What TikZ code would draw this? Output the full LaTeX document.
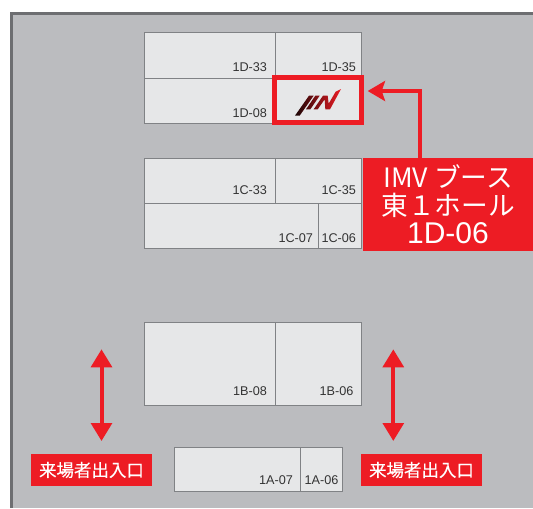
\documentclass[tikz,border=0pt]{standalone}
\usepackage{fontspec}
\setmainfont{Liberation Sans}
\newfontfamily\jpfont{Noto Sans CJK JP}
\newfontfamily\jpboldfont[FakeBold=0.15]{Noto Sans CJK JP}
\usetikzlibrary{arrows.meta}
\definecolor{hallgrey}{HTML}{BBBCBF}
\definecolor{boothgrey}{HTML}{E6E7E8}
\definecolor{edgegrey}{HTML}{808285}
\definecolor{walldark}{HTML}{6D6E71}
\definecolor{imvred}{HTML}{ED1C24}
\definecolor{logodark}{HTML}{1A0505}
\definecolor{logomid}{HTML}{9E1016}
\tikzset{
  boothrect/.style={fill=boothgrey,draw=edgegrey,line width=0.75pt},
  boothtext/.style={anchor=base east,inner sep=0pt,outer sep=0pt,text=black!80,font=\fontsize{9.5pt}{11pt}\selectfont},
  entrance/.style={fill=imvred,text=white,inner sep=0pt,outer sep=0pt,minimum width=90.75pt,minimum height=24pt,font=\jpboldfont\fontsize{13.1pt}{15pt}\selectfont},
  redline/.style={draw=imvred,line width=3pt},
  gate/.style={redline,{Triangle[length=13.5pt,width=15.5pt]}-{Triangle[length=13.5pt,width=15.5pt]}},
  hallmark/.style={draw=imvred,line width=3.75pt,fill=boothgrey,inner sep=0pt,outer sep=0pt,minimum width=65.25pt,minimum height=34pt},
  calloutbox/.style={fill=imvred,text=white,inner sep=0pt,outer sep=0pt,minimum width=127.5pt,minimum height=69.75pt,align=center,font=\jpfont\fontsize{20pt}{21pt}\selectfont}
}
\begin{document}
\begin{tikzpicture}[x=0.75pt,y=-0.75pt]
\useasboundingbox (0,0) rectangle (533,508);
\fill[white] (0,0) rectangle (533,508);
\fill[hallgrey] (10,11.5) rectangle (533,508);
\draw[walldark,line width=2.25pt] (11,508) -- (11,13) -- (533,13);
% 1D block
\draw[boothrect] (144.5,32.5) rectangle (275,78);
\draw[boothrect] (275,32.5) rectangle (361,78);
\draw[boothrect] (144.5,78) rectangle (275,123);
\node[boothtext] (d33) at (267,71) {1D-33};
\node[boothtext] (d35) at (356,71) {1D-35};
\node[boothtext] (d08) at (267,117) {1D-08};
% 1C block
\draw[boothrect] (144.5,158) rectangle (275,203);
\draw[boothrect] (275,158) rectangle (361,203);
\draw[boothrect] (144.5,203) rectangle (318.7,248);
\draw[boothrect] (318.7,203) rectangle (361,248);
\node[boothtext] (c33) at (267,194) {1C-33};
\node[boothtext] (c35) at (356,194) {1C-35};
\node[boothtext] (c07) at (313,242.7) {1C-07};
\node[boothtext] (c06) at (356,242.7) {1C-06};
% 1B block
\draw[boothrect] (144.5,322.5) rectangle (275.5,405.3);
\draw[boothrect] (275.5,322.5) rectangle (361,405.3);
\node[boothtext] (b08) at (267,395) {1B-08};
\node[boothtext] (b06) at (353.5,395) {1B-06};
% 1A block
\draw[boothrect] (174.5,447.5) rectangle (300.7,491.7);
\draw[boothrect] (300.7,447.5) rectangle (342.4,491.7);
\node[boothtext] (a07) at (293,484.7) {1A-07};
\node[boothtext] (a06) at (338.5,484.7) {1A-06};
% IMV booth
\node[hallmark] (imvbooth) at (318,100.2) {};
\begin{scope}[shift={(270,75)},x=0.25pt,y=-0.25pt]
\shade[left color=logodark,middle color=logomid,right color=imvred]
  (75,122) -- (89,122) -- (131,62) -- (117,62) -- cycle
  (108,103) -- (121,103) -- (149,62) -- (136,62) -- cycle
  (131,103) -- (143,103) -- (164,73) -- (166,103) -- (180,103) -- (213,42) -- (197,50) -- (176,86) -- (173,62) -- (159,62) -- cycle;
\end{scope}
% Callout
\node[calloutbox] (imvlabel) at (448,204.2) {\raisebox{0.6pt}{IMV ブース}\\\raisebox{0.6pt}{東１ホール}\\\raisebox{0.6pt}{\fontspec{Liberation Sans}\fontsize{22.5pt}{21pt}\selectfont 1D-06}};
\coordinate (callouttip) at (367.7,91);
\draw[redline,-{Stealth[length=13pt,width=15pt,inset=2.5pt]}] (imvlabel.north -| 420,0) |- (callouttip);
% Entrances
\coordinate (gateLtop) at (101.5,349.3);
\coordinate (gateLbot) at (101.5,441);
\coordinate (gateRtop) at (393.3,349.3);
\coordinate (gateRbot) at (393.3,441);
\draw[gate] (gateLtop) -- (gateLbot);
\draw[gate] (gateRtop) -- (gateRbot);
\node[entrance] (entL) at (91.5,470) {来場者出入口};
\node[entrance] (entR) at (421.5,470) {来場者出入口};
\end{tikzpicture}
\end{document}
